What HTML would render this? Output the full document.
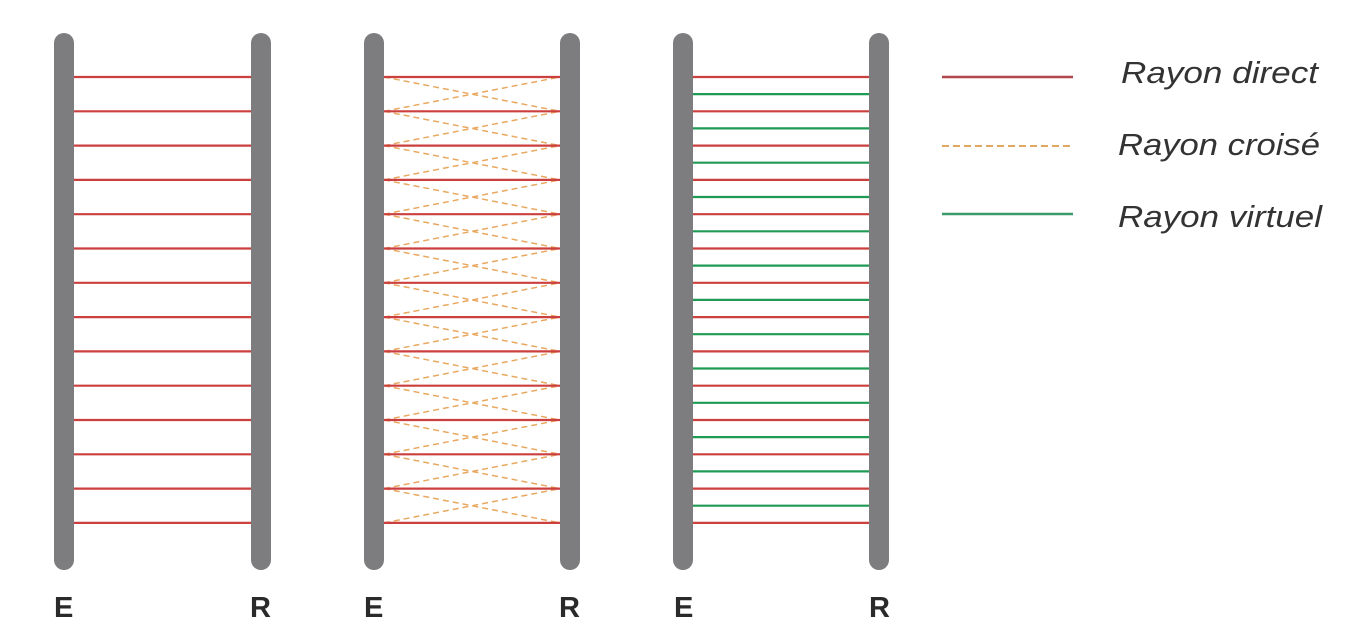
<!DOCTYPE html>
<html><head><meta charset="utf-8"><style>
html,body{margin:0;padding:0;background:#fff;width:1354px;height:639px;overflow:hidden}
svg{display:block}
</style></head><body>
<svg id="s" width="1354" height="639" xmlns="http://www.w3.org/2000/svg">
<g id="g"></g>
<g font-family="Liberation Sans, sans-serif" font-weight="bold" font-size="29" fill="#2a2a2a">
<text x="54" y="617">E</text><text x="250" y="617">R</text>
<text x="364" y="617">E</text><text x="559" y="617">R</text>
<text x="674" y="617">E</text><text x="869" y="617">R</text>
</g>
<line x1="942" y1="77" x2="1073" y2="77" stroke="#b0474f" stroke-width="2.5"/>
<line x1="942" y1="146" x2="1070" y2="146" stroke="#e0a860" stroke-width="2" stroke-dasharray="7,4"/>
<line x1="942" y1="214" x2="1073" y2="214" stroke="#3a9a6a" stroke-width="2.5"/>
<g font-family="Liberation Sans, sans-serif" font-style="italic" font-size="31" fill="#333">
<text x="1121" y="83" textLength="197" lengthAdjust="spacingAndGlyphs">Rayon direct</text>
<text x="1118" y="155" textLength="202" lengthAdjust="spacingAndGlyphs">Rayon croisé</text>
<text x="1118" y="227" textLength="204" lengthAdjust="spacingAndGlyphs">Rayon virtuel</text>
</g>
</svg>
<script>
var g=document.getElementById('g'),ns='http://www.w3.org/2000/svg';
function L(x1,y1,x2,y2,c,w,d){var l=document.createElementNS(ns,'line');l.setAttribute('x1',x1);l.setAttribute('y1',y1);l.setAttribute('x2',x2);l.setAttribute('y2',y2);l.setAttribute('stroke',c);l.setAttribute('stroke-width',w);if(d)l.setAttribute('stroke-dasharray',d);g.appendChild(l);}
function B(x){var r=document.createElementNS(ns,'rect');r.setAttribute('x',x);r.setAttribute('y',33);r.setAttribute('width',20);r.setAttribute('height',537);r.setAttribute('rx',10);r.setAttribute('fill','#7d7d7f');g.appendChild(r);}
var P=[[74,251],[384,560],[693,870]];
var ys=[];for(var i=0;i<14;i++)ys.push(77+i*34.3);
for(var i=0;i<13;i++){L(384,ys[i],560,ys[i+1],'#e8a860',1.5,'6,4');L(384,ys[i+1],560,ys[i],'#e8a860',1.5,'6,4');}
for(var p=0;p<3;p++){for(var i=0;i<14;i++)L(P[p][0],ys[i],P[p][1],ys[i],'#cc3f3f',2.2);}
for(var i=0;i<13;i++)L(693,ys[i]+17.1,870,ys[i]+17.1,'#1f9a55',2.2);
B(54);B(251);B(364);B(560);B(673);B(869);
</script>
</body></html>
